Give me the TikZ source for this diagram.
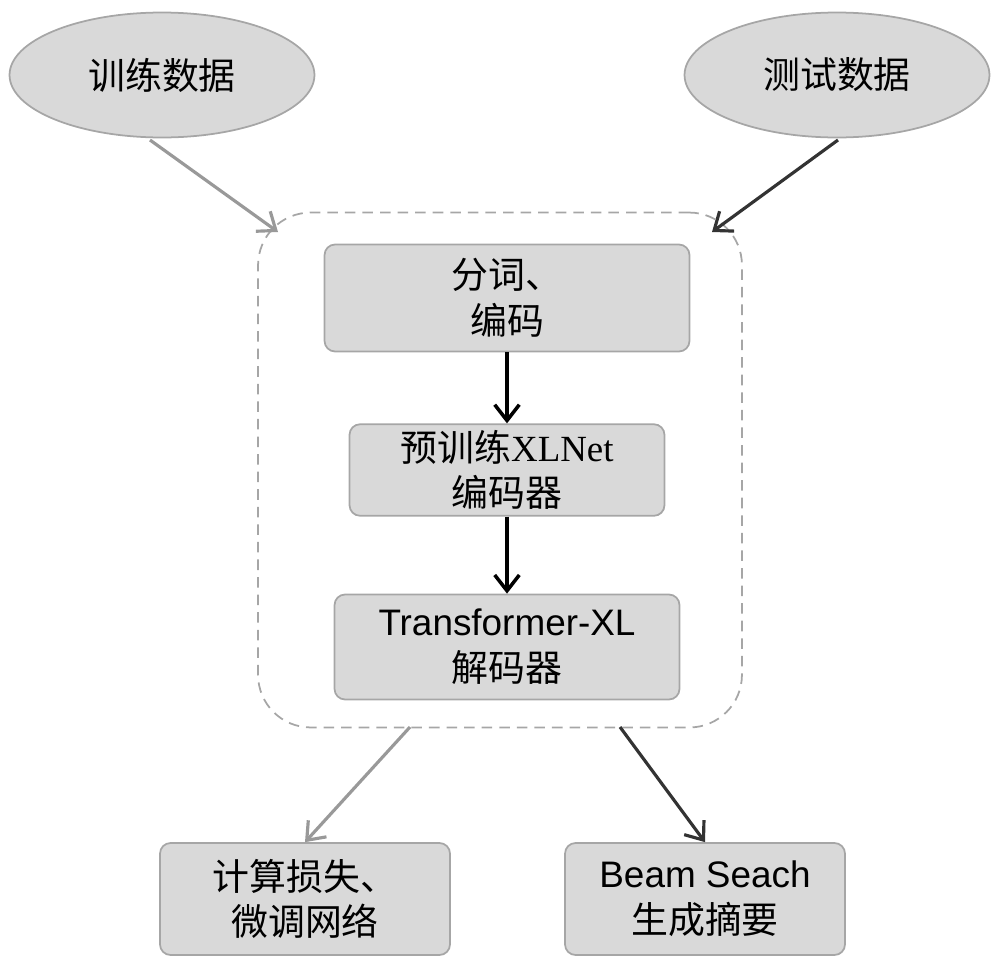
\documentclass[tikz,border=0pt]{standalone}
\usepackage{fontspec}
\setmainfont{Liberation Sans}
\newfontfamily\cjk{Noto Sans CJK SC}
\newfontfamily\serifx{Liberation Serif}
\usetikzlibrary{shapes.geometric,arrows.meta}
\begin{document}
\begin{tikzpicture}[x=0.02cm,y=-0.02cm,
  ell/.style={ellipse,draw=gray!70,line width=1pt,fill=gray!30,minimum width=6.1cm,minimum height=2.5cm,font=\fontsize{21}{24}\selectfont\cjk},
  box/.style={draw=gray!70,line width=1pt,fill=gray!30,rounded corners=6pt,align=center,font=\fontsize{21}{26}\selectfont\cjk},
  garr/.style={line width=1.8pt,draw=gray!80,-{Straight Barb[length=9pt,width=14pt]}},
  darr/.style={line width=1.8pt,draw=black!80,-{Straight Barb[length=9pt,width=14pt]}},
  karr/.style={line width=2pt,-{Straight Barb[length=9pt,width=14pt]}}]
\useasboundingbox (0,0) rectangle (1000,967);
\node[ell] (tr) at (162,75) {训练数据};
\node[ell] (te) at (837,75) {测试数据};
\node[draw=gray!70,dash pattern=on 6pt off 4pt,line width=1pt,rounded corners=30pt,minimum width=9.68cm,minimum height=10.3cm] (grp) at (500,470) {};
\node[box,minimum width=7.3cm,minimum height=2.14cm] (b1) at (507,298) {分词、\\编码};
\node[box,minimum width=6.3cm,minimum height=1.8cm] (b2) at (507,470) {预训练{\serifx XLNet}\\编码器};
\node[box,minimum width=6.9cm,minimum height=2.1cm] (b3) at (507,647) {{\rmfamily Transformer-XL}\\解码器};
\node[box,minimum width=5.8cm,minimum height=2.24cm] (b4) at (305,899) {计算损失、\\微调网络};
\node[box,minimum width=5.6cm,minimum height=2.24cm] (b5) at (705,899) {{\rmfamily Beam Seach}\\生成摘要};
\coordinate (g1) at (278,232); \coordinate (g2) at (712,232);
\coordinate (g3) at (410,727); \coordinate (g4) at (620,727);
\coordinate (t1) at (150,140); \coordinate (t2) at (838,140);
\draw[garr] (t1) -- (g1);
\draw[darr] (t2) -- (g2);
\draw[karr] (b1) -- (b2);
\draw[karr] (b2) -- (b3);
\draw[garr] (g3) -- (b4.north);
\draw[darr] (g4) -- (b5.north);
\end{tikzpicture}
\end{document}
